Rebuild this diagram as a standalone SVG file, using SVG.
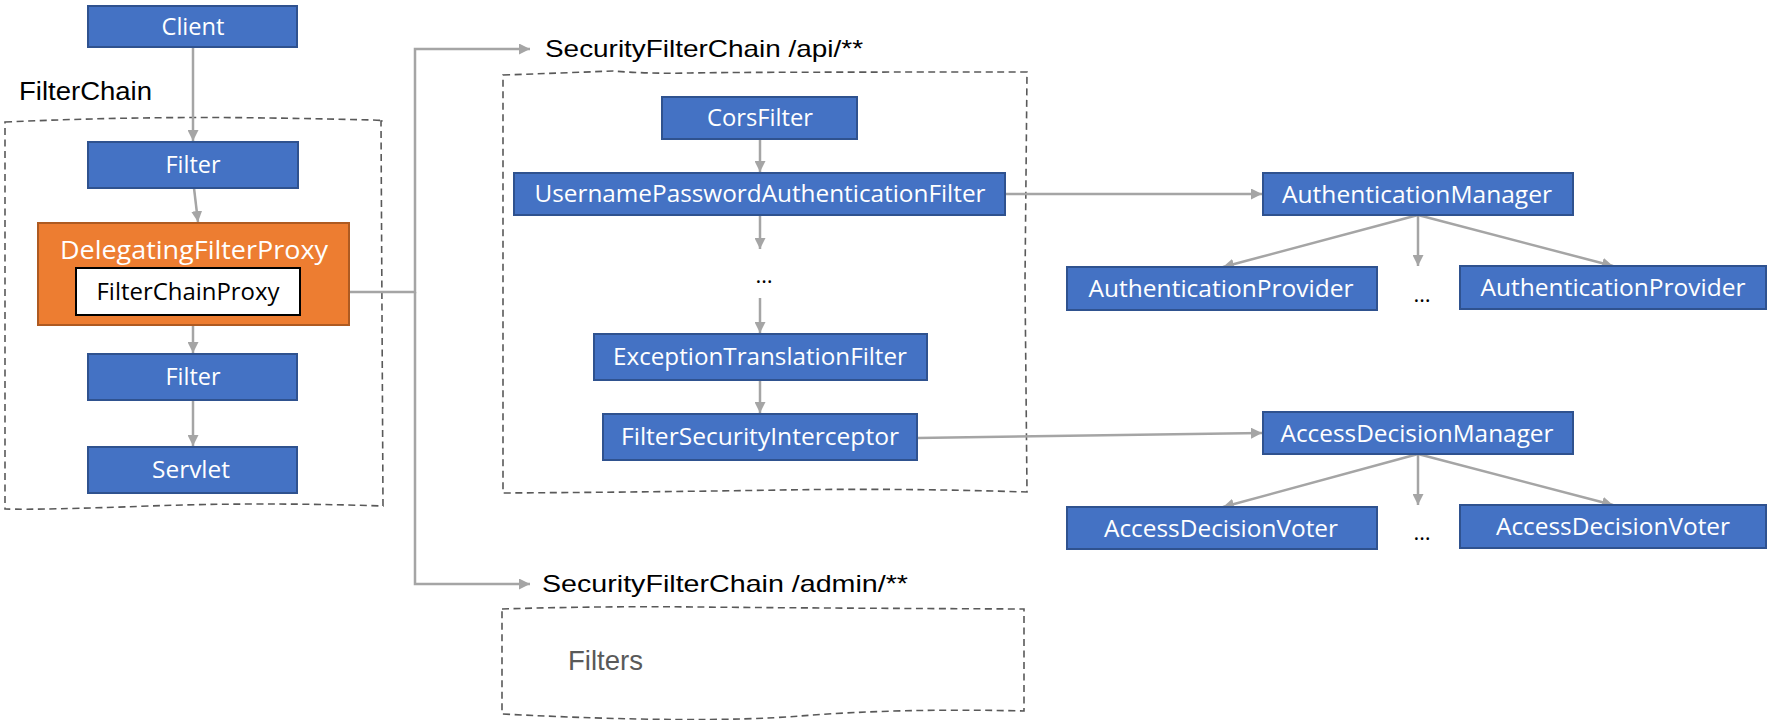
<svg xmlns="http://www.w3.org/2000/svg" width="1768" height="720" viewBox="0 0 1768 720">
<style>
.box{fill:#4472C4;stroke:#2F528F;stroke-width:2}
.lbl{font-family:"Open Sans","Noto Sans",sans-serif;font-size:23.5px;fill:#fff;text-anchor:middle}
.hdr{font-family:"Liberation Sans",Arial,sans-serif;font-size:24px;fill:#000}
.dash{fill:none;stroke:#595959;stroke-width:1.6;stroke-dasharray:7 4.5}
.con{fill:none;stroke:#A5A5A5;stroke-width:2.5}
.dots{font-family:"Open Sans",sans-serif;font-size:22px;fill:#000;text-anchor:middle}
</style>
<defs>
<marker id="ah" viewBox="0 0 10 10" refX="10" refY="5" markerWidth="4.4" markerHeight="4.4" markerUnits="strokeWidth" orient="auto">
<path d="M0,0 L10,5 L0,10 z" fill="#A5A5A5"/>
</marker>
</defs>
<rect width="1768" height="720" fill="#fff"/>

<g id="containers">
<path class="dash" d="M5,122 Q140,116 270,118 T381,121 L383,506 Q260,502 150,506 T5,509 Z"/>
<path class="dash" d="M503,75 Q560,73 613,71 Q650,74 690,73 T1027,72 L1025,282 L1027,492 Q900,488 780,490 T503,493 Z"/>
<path class="dash" d="M502,609 Q600,606 697,607 T1024,609 L1024,711 Q900,708 800,716 T502,714 Z"/>
<text class="hdr" x="19" y="100" style="font-size:25px" textLength="133" lengthAdjust="spacingAndGlyphs">FilterChain</text>
<text class="hdr" x="545" y="57" textLength="318" lengthAdjust="spacingAndGlyphs">SecurityFilterChain /api/**</text>
<text class="hdr" x="542" y="592" textLength="366" lengthAdjust="spacingAndGlyphs">SecurityFilterChain /admin/**</text>
<text class="hdr" x="568" y="670" style="fill:#595959;font-size:28px" textLength="75" lengthAdjust="spacingAndGlyphs">Filters</text>
</g>

<g id="connectors">
<path class="con" d="M193,47 V141" marker-end="url(#ah)"/>
<path class="con" d="M194,188 L198,222" marker-end="url(#ah)"/>
<path class="con" d="M193,325 V353" marker-end="url(#ah)"/>
<path class="con" d="M193,400 V446" marker-end="url(#ah)"/>
<path class="con" d="M300,292 H415 V49 H530" marker-end="url(#ah)"/>
<path class="con" d="M415,292 V584 H530" marker-end="url(#ah)"/>
<path class="con" d="M760,139 V172" marker-end="url(#ah)"/>
<path class="con" d="M760,215 V249" marker-end="url(#ah)"/>
<path class="con" d="M760,298 V333" marker-end="url(#ah)"/>
<path class="con" d="M760,380 V413" marker-end="url(#ah)"/>
<path class="con" d="M1005,194 H1262" marker-end="url(#ah)"/>
<path class="con" d="M917,438 L1262,433" marker-end="url(#ah)"/>
<path class="con" d="M1418,215 L1223,267" marker-end="url(#ah)"/>
<path class="con" d="M1418,215 V266" marker-end="url(#ah)"/>
<path class="con" d="M1418,215 L1613,266" marker-end="url(#ah)"/>
<path class="con" d="M1418,454 L1223,507" marker-end="url(#ah)"/>
<path class="con" d="M1418,454 V505" marker-end="url(#ah)"/>
<path class="con" d="M1418,454 L1613,505" marker-end="url(#ah)"/>
</g>

<g id="client"><rect class="box" x="88" y="6" width="209" height="41"/><text class="lbl" x="193" y="35" textLength="63" lengthAdjust="spacingAndGlyphs">Client</text></g>
<g id="filter1"><rect class="box" x="88" y="142" width="210" height="46"/><text class="lbl" x="193" y="173" textLength="55" lengthAdjust="spacingAndGlyphs">Filter</text></g>
<g id="delegatingFilterProxy"><rect x="38" y="223" width="311" height="102" fill="#ED7D31" stroke="#AE5A21" stroke-width="2"/><text class="lbl" x="194" y="259" style="font-size:26px" textLength="268" lengthAdjust="spacingAndGlyphs">DelegatingFilterProxy</text></g>
<g id="filterChainProxy"><rect x="76" y="268" width="224" height="47" fill="#fff" stroke="#000" stroke-width="2"/><text class="lbl" x="188" y="300" style="fill:#000;font-size:23.5px" textLength="183" lengthAdjust="spacingAndGlyphs">FilterChainProxy</text></g>
<g id="filter2"><rect class="box" x="88" y="354" width="209" height="46"/><text class="lbl" x="193" y="385" textLength="55" lengthAdjust="spacingAndGlyphs">Filter</text></g>
<g id="servlet"><rect class="box" x="88" y="447" width="209" height="46"/><text class="lbl" x="191" y="478" textLength="78" lengthAdjust="spacingAndGlyphs">Servlet</text></g>

<g id="corsFilter"><rect class="box" x="662" y="97" width="195" height="42"/><text class="lbl" x="760" y="126" textLength="106" lengthAdjust="spacingAndGlyphs">CorsFilter</text></g>
<g id="upaf"><rect class="box" x="514" y="173" width="491" height="42"/><text class="lbl" x="760" y="202" textLength="451" lengthAdjust="spacingAndGlyphs">UsernamePasswordAuthenticationFilter</text></g>
<g id="apiDots"><text class="dots" x="764" y="283">…</text></g>
<g id="etf"><rect class="box" x="594" y="334" width="333" height="46"/><text class="lbl" x="760" y="365" textLength="294" lengthAdjust="spacingAndGlyphs">ExceptionTranslationFilter</text></g>
<g id="fsi"><rect class="box" x="603" y="414" width="314" height="46"/><text class="lbl" x="760" y="445" textLength="278" lengthAdjust="spacingAndGlyphs">FilterSecurityInterceptor</text></g>

<g id="authenticationManager"><rect class="box" x="1263" y="173" width="310" height="42"/><text class="lbl" x="1417" y="203" style="font-size:24.5px" textLength="270" lengthAdjust="spacingAndGlyphs">AuthenticationManager</text></g>
<g id="authProvider1"><rect class="box" x="1067" y="267" width="310" height="43"/><text class="lbl" x="1221" y="297" style="font-size:24.5px" textLength="265" lengthAdjust="spacingAndGlyphs">AuthenticationProvider</text></g>
<g id="authDots"><text class="dots" x="1422" y="302">…</text></g>
<g id="authProvider2"><rect class="box" x="1460" y="266" width="306" height="43"/><text class="lbl" x="1613" y="296" style="font-size:24.5px" textLength="265" lengthAdjust="spacingAndGlyphs">AuthenticationProvider</text></g>

<g id="accessDecisionManager"><rect class="box" x="1263" y="412" width="310" height="42"/><text class="lbl" x="1417" y="442" style="font-size:24.5px" textLength="273" lengthAdjust="spacingAndGlyphs">AccessDecisionManager</text></g>
<g id="voter1"><rect class="box" x="1067" y="507" width="310" height="42"/><text class="lbl" x="1221" y="537" style="font-size:24.5px" textLength="234" lengthAdjust="spacingAndGlyphs">AccessDecisionVoter</text></g>
<g id="voterDots"><text class="dots" x="1422" y="540">…</text></g>
<g id="voter2"><rect class="box" x="1460" y="505" width="306" height="43"/><text class="lbl" x="1613" y="535" style="font-size:24.5px" textLength="234" lengthAdjust="spacingAndGlyphs">AccessDecisionVoter</text></g>
</svg>
